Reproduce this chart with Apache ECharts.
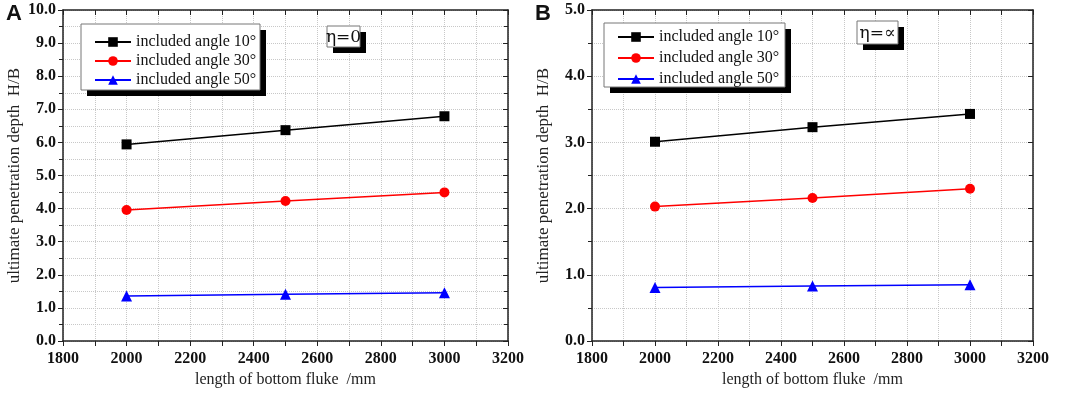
<!DOCTYPE html>
<html>
<head>
<meta charset="utf-8">
<script src="https://cdn.jsdelivr.net/npm/echarts@6/dist/echarts.min.js"></script>
<style>
  html, body { margin: 0; padding: 0; background: #fff; }
  #chart { width: 1065px; height: 396px; }
</style>
</head>
<body>
<div id="chart"></div>
<script>
  // data
  const lengths = [2000, 2500, 3000]
  const seriesNames = ['included angle 10°', 'included angle 30°', 'included angle 50°']
  // panel A, eta = 0
  const angle10A = [5.94, 6.37, 6.79]
  const angle30A = [3.96, 4.23, 4.49]
  const angle50A = [1.36, 1.41, 1.46]
  // panel B, eta = infinity
  const angle10B = [3.01, 3.23, 3.43]
  const angle30B = [2.03, 2.16, 2.30]
  const angle50B = [0.81, 0.83, 0.85]

  const serif = 'Liberation Serif'
  const colors = ['#000000', '#ff0000', '#0000ff']
  const symbols = ['rect', 'circle', 'triangle']
  const symbolSizes = [10, 10, 11]

  const chart = echarts.init(document.getElementById('chart'))

  function pairs(vals) {
    return lengths.map((x, i) => [x, vals[i]])
  }

  function bottomAxis(gridIndex) {
    return {
      type: 'value', gridIndex: gridIndex, position: 'bottom',
      min: 1800, max: 3200, interval: 200,
      name: 'length of bottom fluke  /mm', nameLocation: 'middle', nameGap: 30,
      nameTextStyle: { fontFamily: serif, fontSize: 16, color: '#222' },
      axisLine: { show: true, onZero: false, lineStyle: { color: '#222', width: 1.5 } },
      axisTick: { show: true, inside: false, length: 5, lineStyle: { color: '#222' } },
      minorTick: { show: true, splitNumber: 2, length: 5, lineStyle: { color: '#222' } },
      axisLabel: {
        fontFamily: serif, fontWeight: 'bold', fontSize: 16, color: '#111', margin: 10,
        formatter: v => String(v)
      },
      splitLine: { show: true, lineStyle: { color: '#c8c8c8', type: 'dotted' } },
      minorSplitLine: { show: true, lineStyle: { color: '#c8c8c8', type: 'dotted' } }
    }
  }

  function topAxis(gridIndex) {
    return {
      type: 'value', gridIndex: gridIndex, position: 'top',
      min: 1800, max: 3200, interval: 200,
      axisLine: { show: true, onZero: false, lineStyle: { color: '#222', width: 1.5 } },
      axisTick: { show: true, inside: true, length: 5, lineStyle: { color: '#222' } },
      minorTick: { show: true, splitNumber: 2, length: 5, lineStyle: { color: '#222' } },
      axisLabel: { show: false },
      splitLine: { show: false }
    }
  }

  function leftAxis(gridIndex, max) {
    return {
      type: 'value', gridIndex: gridIndex, position: 'left',
      min: 0, max: max, interval: 1,
      name: 'ultimate penetration depth  H/B', nameLocation: 'middle', nameGap: 40,
      nameTextStyle: { fontFamily: serif, fontSize: 17, color: '#222' },
      axisLine: { show: true, onZero: false, lineStyle: { color: '#222', width: 1.5 } },
      axisTick: { show: true, inside: false, length: 5, lineStyle: { color: '#222' } },
      minorTick: { show: true, splitNumber: 2, length: 4, lineStyle: { color: '#222' } },
      axisLabel: {
        fontFamily: serif, fontWeight: 'bold', fontSize: 16, color: '#111', margin: 7,
        formatter: v => v.toFixed(1)
      },
      splitLine: { show: true, lineStyle: { color: '#c8c8c8', type: 'dotted' } },
      minorSplitLine: { show: true, lineStyle: { color: '#c8c8c8', type: 'dotted' } }
    }
  }

  function rightAxis(gridIndex, max) {
    return {
      type: 'value', gridIndex: gridIndex, position: 'right',
      min: 0, max: max, interval: 1,
      axisLine: { show: true, onZero: false, lineStyle: { color: '#222', width: 1.5 } },
      axisTick: { show: true, inside: true, length: 5, lineStyle: { color: '#222' } },
      minorTick: { show: true, splitNumber: 2, length: 4, lineStyle: { color: '#222' } },
      axisLabel: { show: false },
      splitLine: { show: false }
    }
  }

  function lineSeries(i, vals, xIdx, yIdx) {
    return {
      name: seriesNames[i], type: 'line',
      xAxisIndex: xIdx, yAxisIndex: yIdx,
      data: pairs(vals),
      symbol: symbols[i], symbolSize: symbolSizes[i],
      lineStyle: { color: colors[i], width: 1.5 },
      itemStyle: { color: colors[i] },
      animation: false
    }
  }

  function legendBox(left, top, gap) {
    return {
      left: left, top: top, orient: 'vertical', z: 20,
      data: seriesNames,
      itemWidth: 36, itemHeight: 12, itemGap: gap,
      padding: [0, 0],
      textStyle: { fontFamily: serif, fontSize: 16, color: '#111' },
      selectedMode: false
    }
  }

  // box with a hard black drop shadow (legend frames and eta labels)
  function shadowBox(x, y, w, h, label) {
    const children = [
      { type: 'rect', z: 15, shape: { x: x + 6, y: y + 6, width: w, height: h }, style: { fill: '#000' } },
      { type: 'rect', z: 16, shape: { x: x, y: y, width: w, height: h }, style: { fill: '#fff', stroke: '#777', lineWidth: 1 } }
    ]
    if (label) {
      children.push({
        type: 'text', z: 17,
        style: {
          text: label, x: x + w / 2, y: y + h / 2 + 1,
          align: 'center', verticalAlign: 'middle',
          font: '17px "DejaVu Serif", serif', fill: '#111'
        }
      })
    }
    return children
  }

  chart.setOption({
    animation: false,
    backgroundColor: '#fff',
    title: [
      { text: 'A', left: 1, top: -2, textStyle: { fontFamily: 'Liberation Sans', fontSize: 22, fontWeight: 'bold', color: '#111' } },
      { text: 'B', left: 530, top: -2, textStyle: { fontFamily: 'Liberation Sans', fontSize: 22, fontWeight: 'bold', color: '#111' } }
    ],
    graphic: [].concat(
      shadowBox(81, 24, 179, 66),
      shadowBox(604, 23, 181, 64),
      shadowBox(327, 26, 33, 21, 'η=0'),
      shadowBox(857, 21, 41, 23, 'η=∝')
    ),
    legend: [legendBox(94, 34, 3), legendBox(617, 29, 5)],
    grid: [
      { left: 63, right: 557, top: 10, bottom: 55 },
      { left: 592, right: 32, top: 10, bottom: 55 }
    ],
    xAxis: [bottomAxis(0), topAxis(0), bottomAxis(1), topAxis(1)],
    yAxis: [leftAxis(0, 10), rightAxis(0, 10), leftAxis(1, 5), rightAxis(1, 5)],
    series: [
      lineSeries(0, angle10A, 0, 0),
      lineSeries(1, angle30A, 0, 0),
      lineSeries(2, angle50A, 0, 0),
      lineSeries(0, angle10B, 2, 2),
      lineSeries(1, angle30B, 2, 2),
      lineSeries(2, angle50B, 2, 2)
    ]
  })
</script>
</body>
</html>
